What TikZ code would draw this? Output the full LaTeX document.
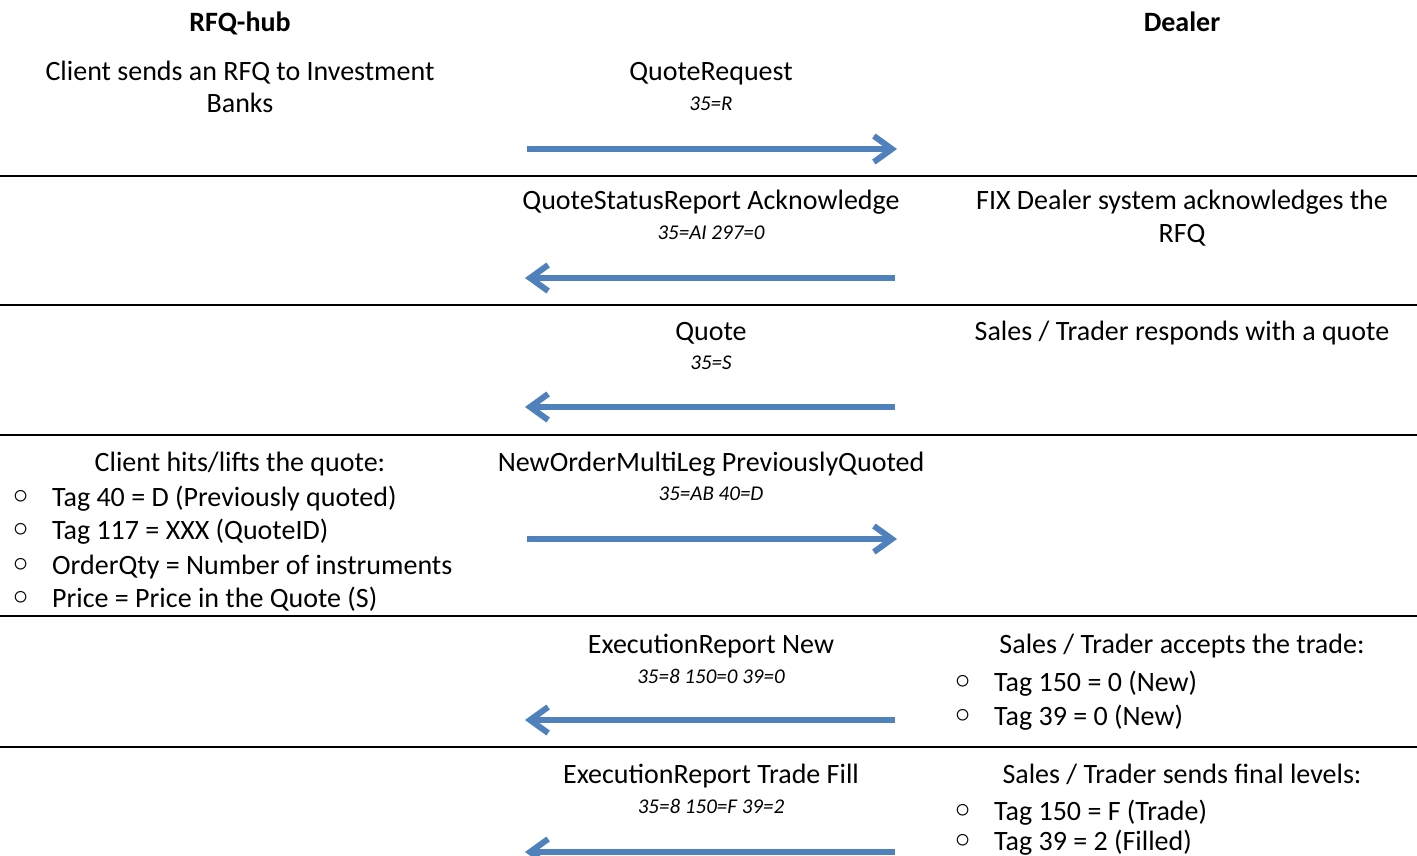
\documentclass[tikz,border=0pt]{standalone}
\usepackage{fontspec}
\setmainfont{Carlito}
\newfontfamily\symfont{DejaVu Sans}
\usetikzlibrary{arrows.meta,positioning}
\definecolor{msgblue}{HTML}{4F81BD}
\tikzset{
  head/.style={font=\fontsize{28}{32}\selectfont\bfseries, inner sep=0pt, anchor=base},
  msg/.style={font=\fontsize{28}{32}\selectfont, inner sep=0pt, anchor=base},
  tagline/.style={font=\fontsize{21}{24}\selectfont\itshape, inner sep=0pt, anchor=base},
  note/.style={font=\fontsize{28}{32}\selectfont, align=center, inner sep=0pt, anchor=base},
  item/.style={font=\fontsize{28}{32}\selectfont, inner sep=0pt, anchor=base west},
  flow/.style={line width=6pt, color=msgblue, -{Straight Barb[length=18pt,width=26pt]},
    preaction={draw=black, opacity=0.15, transform canvas={yshift=-2.5pt}}},
  sep/.style={line width=2.5pt, black},
}
\newcommand{\bul}{\makebox[42pt][l]{\smash{\raisebox{-2.5pt}{\symfont\bfseries\fontsize{33}{33}\selectfont ◦}}}}
\begin{document}
\begin{tikzpicture}[x=1pt,y=-1pt]
  \useasboundingbox (0,0) rectangle (1417,856);
  % column headers
  \node[head] (hub) at (240,32) {RFQ-hub};
  \node[head] (dealer) at (1182,32) {Dealer};
  % row 1
  \node[note] (rfq) at (240,81) {Client sends an RFQ to Investment};
  \node[note] (rfqb) at (240,113) {Banks};
  \node[msg] (m1) at (711,81) {QuoteRequest};
  \node[tagline] (t1) at (711,111) {35=R};
  \coordinate (a1s) at (527,149);
  \coordinate (a1e) at (897,149);
  \draw[flow] (a1s) -- (a1e);
  \draw[sep] (0,176) -- (1417,176);
  % row 2
  \node[msg] (m2) at (711,210) {QuoteStatusReport Acknowledge};
  \node[tagline] (t2) at (711,240) {35=AI 297=0};
  \node[note] (ack) at (1182,210) {FIX Dealer system acknowledges the};
  \node[note] (ackb) at (1182,242) {RFQ};
  \coordinate (a2s) at (895,278);
  \coordinate (a2e) at (525,278);
  \draw[flow] (a2s) -- (a2e);
  \draw[sep] (0,305) -- (1417,305);
  % row 3
  \node[msg] (m3) at (711,340) {Quote};
  \node[tagline] (t3) at (711,369) {35=S};
  \node[note] (resp) at (1182,340) {Sales / Trader responds with a quote};
  \coordinate (a3s) at (895,407);
  \coordinate (a3e) at (525,407);
  \draw[flow] (a3s) -- (a3e);
  \draw[sep] (0,435) -- (1417,435);
  % row 4
  \node[msg] (m4) at (711,471) {NewOrderMultiLeg PreviouslyQuoted};
  \node[tagline] (t4) at (711,500) {35=AB 40=D};
  \node[note] (hit) at (240,471) {Client hits/lifts the quote:};
  \node[item] (hit1) at (10,506) {\bul Tag 40 = D (Previously quoted)};
  \node[item] (hit2) at (10,539) {\bul Tag 117 = XXX (QuoteID)};
  \node[item] (hit3) at (10,574) {\bul OrderQty = Number of instruments};
  \node[item] (hit4) at (10,607) {\bul Price = Price in the Quote (S)};
  \coordinate (a4s) at (527,539);
  \coordinate (a4e) at (897,539);
  \draw[flow] (a4s) -- (a4e);
  \draw[sep] (0,616) -- (1417,616);
  % row 5
  \node[msg] (m5) at (711,653) {ExecutionReport New};
  \node[tagline] (t5) at (711,683) {35=8 150=0 39=0};
  \node[note] (acc) at (1182,653) {Sales / Trader accepts the trade:};
  \node[item] (acc1) at (952,691) {\bul Tag 150 = 0 (New)};
  \node[item] (acc2) at (952,725) {\bul Tag 39 = 0 (New)};
  \coordinate (a5s) at (895,720);
  \coordinate (a5e) at (525,720);
  \draw[flow] (a5s) -- (a5e);
  \draw[sep] (0,747) -- (1417,747);
  % row 6
  \node[msg] (m6) at (711,783) {ExecutionReport Trade Fill};
  \node[tagline] (t6) at (711,813) {35=8 150=F 39=2};
  \node[note] (fin) at (1182,783) {Sales / Trader sends final levels:};
  \node[item] (fin1) at (952,820) {\bul Tag 150 = F (Trade)};
  \node[item] (fin2) at (952,850) {\bul Tag 39 = 2 (Filled)};
  \coordinate (a6s) at (895,852);
  \coordinate (a6e) at (525,852);
  \draw[flow] (a6s) -- (a6e);
\end{tikzpicture}
\end{document}
